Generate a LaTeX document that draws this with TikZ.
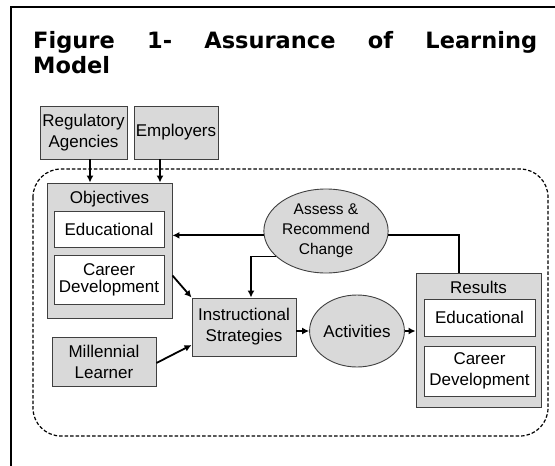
\documentclass[tikz,border=0pt]{standalone}
\usepackage{fontspec}
\setmainfont{Liberation Sans}
\newfontfamily\headfont{DejaVu Sans}
\usetikzlibrary{shapes,arrows,arrows.meta,positioning}

\begin{document}
\begin{tikzpicture}[x=1pt, y=-1pt,
        greybox/.style={draw=black!75, fill=boxgrey, line width=0.9pt, inner sep=1pt, align=center, font=\fontsize{17}{21}\selectfont},
        whitebox/.style={draw=black!75, fill=white, line width=0.9pt, inner sep=1pt, align=center, font=\fontsize{17}{17}\selectfont},
        greyoval/.style={ellipse, draw=black!75, fill=boxgrey, line width=0.9pt, inner sep=0pt, align=center},
        flow/.style={-{Latex[length=7pt,width=7pt]}, line width=1.8pt}]
        \definecolor{boxgrey}{RGB}{217,217,217}

        \useasboundingbox (0,0) rectangle (555,466);

        % Page frame and title
        \draw[line width=1.2pt] (555,7) -- (11,7) -- (11,466);
        \node[anchor=base west, inner sep=0pt, font=\headfont\bfseries\fontsize{22.5}{27}\selectfont] (title) at (33,48) {\makebox[504pt][s]{Figure 1- Assurance of Learning}};
        \node[anchor=base west, inner sep=0pt, font=\headfont\bfseries\fontsize{22.5}{27}\selectfont] (title2) at (33,73) {Model};

        % Outside influences
        \node[greybox, minimum width=87pt, minimum height=53pt] (reg) at (83.5,132.5) {Regulatory\\Agencies};
        \node[greybox, minimum width=84pt, minimum height=53pt] (emp) at (176,132.5) {Employers};

        % Dashed process boundary
        \draw[line width=1.2pt, dash pattern=on 3.5pt off 2pt, rounded corners=28pt] (33,169) rectangle (548,436);

        % Objectives
        \node[greybox, minimum width=125pt, minimum height=135pt] (obj) at (109.5,250.5) {};
        \node[font=\fontsize{17}{20}\selectfont, inner sep=0pt] (objlabel) at (109.5,199) {Objectives};
        \node[whitebox, minimum width=110pt, minimum height=36pt] (objedu) at (109,229) {Educational};
        \node[whitebox, minimum width=110pt, minimum height=49pt] (objcar) at (109,279.5) {Career\\Development};

        % Process
        \node[greyoval, minimum width=92pt, minimum height=84pt, font=\fontsize{15.5}{20}\selectfont] (assess) at (326,231) {Assess \&\\Recommend\\Change};
        \node[greybox, minimum width=104pt, minimum height=58pt] (instr) at (244,327) {Instructional\\Strategies};
        \node[greyoval, minimum width=80pt, minimum height=72pt, font=\fontsize{17}{20}\selectfont] (activ) at (357,331) {Activities};
        \node[greybox, minimum width=104pt, minimum height=49pt] (mill) at (104,361.5) {Millennial\\Learner};

        % Results
        \node[greybox, minimum width=125pt, minimum height=134pt] (res) at (478.5,340) {};
        \node[font=\fontsize{17}{20}\selectfont, inner sep=0pt] (reslabel) at (478.5,287) {Results};
        \node[whitebox, minimum width=111pt, minimum height=37pt] (resedu) at (479.5,317.5) {Educational};
        \node[whitebox, minimum width=111pt, minimum height=50pt, font=\fontsize{17}{21}\selectfont] (rescar) at (479.5,371) {Career\\Development};

        % Connectors
        \draw[flow] ([xshift=6.5pt]reg.south) -- ([xshift=6.5pt]reg.south |- obj.north);
        \draw[flow] ([xshift=-16pt]emp.south) -- ([xshift=-16pt]emp.south |- obj.north);
        \draw[flow] (assess.184) -- (assess.184 -| obj.east);
        \draw[line width=1.8pt] (assess.356) -| ([xshift=-19.5pt]res.north);
        \draw[flow] (assess.207) -| ([xshift=7pt]instr.north);
        \draw[flow] ([yshift=-25pt]obj.east) -- (instr.north west);
        \draw[flow] ([yshift=-1.5pt]mill.east) -- ([yshift=-18pt]instr.west);
        \draw[flow] (activ.west -| instr.east) -- (activ.west);
        \draw[flow] (activ.east) -- (activ.east -| res.west);
    \end{tikzpicture}
\end{document}
